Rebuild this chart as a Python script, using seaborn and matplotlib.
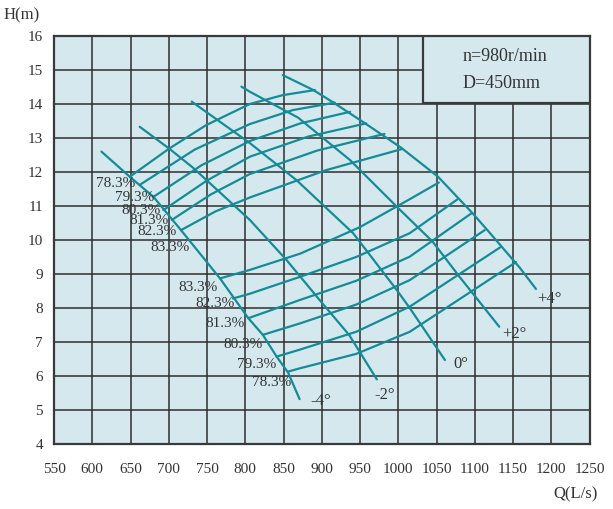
import matplotlib
matplotlib.use("Agg")
import matplotlib.pyplot as plt
from matplotlib.patches import Rectangle
import pandas as pd
import seaborn as sns

# H-Q curves for each blade angle (Q in L/s, H in m)
angle_labels = ["-4°", "-2°", "0°", "+2°", "+4°"]
q_m4 = [612, 649, 680, 716, 767, 804, 823, 841, 856, 871]
h_m4 = [12.60, 11.86, 11.27, 10.29, 8.87, 7.70, 7.21, 6.57, 6.10, 5.32]
q_m2 = [662, 701, 732, 806, 854, 897, 936, 972]
h_m2 = [13.33, 12.68, 12.12, 10.59, 9.41, 8.24, 7.20, 5.90]
q_0 = [730, 806, 867, 941, 998, 1015, 1061]
h_0 = [14.07, 12.85, 11.76, 10.20, 8.53, 8.00, 6.47]
q_p2 = [795, 806, 869, 937, 998, 1045, 1080, 1132]
h_p2 = [14.51, 14.36, 13.60, 12.35, 10.98, 9.95, 8.92, 7.45]
q_p4 = [849, 889, 914, 956, 1004, 1052, 1097, 1120, 1159, 1180]
h_p4 = [14.85, 14.41, 14.06, 13.44, 12.71, 11.86, 10.79, 10.20, 9.18, 8.56]

# iso-efficiency curves, upper branch
eff_labels = ["78.3%", "79.3%", "80.3%", "81.3%", "82.3%", "83.3%"]
q_up = [
    [649, 700, 749, 806, 849, 891],
    [662, 734, 806, 862, 917],
    [680, 743, 806, 872, 937],
    [693, 750, 806, 882, 958],
    [704, 755, 806, 894, 982],
    [716, 761, 806, 905, 1004],
]
h_up = [
    [11.86, 12.68, 13.38, 14.00, 14.26, 14.41],
    [11.62, 12.66, 13.41, 13.82, 14.04],
    [11.27, 12.20, 12.91, 13.43, 13.77],
    [10.88, 11.75, 12.45, 13.04, 13.43],
    [10.59, 11.34, 11.94, 12.63, 13.12],
    [10.29, 10.84, 11.25, 12.05, 12.67],
]
# iso-efficiency curves, lower branch
q_low = [
    [856, 872, 945, 1015, 1154],
    [841, 872, 945, 1015, 1133],
    [823, 872, 945, 1015, 1113],
    [804, 872, 945, 1015, 1096],
    [784, 806, 872, 945, 1015, 1077],
    [767, 806, 872, 950, 1015, 1053],
]
h_low = [
    [6.13, 6.23, 6.65, 7.30, 9.35],
    [6.57, 6.78, 7.30, 8.04, 9.78],
    [7.21, 7.55, 8.10, 8.82, 10.29],
    [7.70, 8.24, 8.80, 9.51, 10.79],
    [8.28, 8.42, 8.92, 9.50, 10.20, 11.19],
    [8.87, 9.12, 9.60, 10.38, 11.20, 11.69],
]

rows = []
for name, qs, hs in zip(angle_labels, [q_m4, q_m2, q_0, q_p2, q_p4],
                        [h_m4, h_m2, h_0, h_p2, h_p4]):
    rows += [{"curve": "angle " + name, "Q": q, "H": h} for q, h in zip(qs, hs)]
for lab, qs, hs in zip(eff_labels, q_up, h_up):
    rows += [{"curve": "up " + lab, "Q": q, "H": h} for q, h in zip(qs, hs)]
for lab, qs, hs in zip(eff_labels, q_low, h_low):
    rows += [{"curve": "low " + lab, "Q": q, "H": h} for q, h in zip(qs, hs)]
df = pd.DataFrame(rows)

sns.set_theme(style="white")
plt.rcParams["font.family"] = ["Liberation Serif", "DejaVu Serif"]

teal = "#148c98"
txt = "#333333"

fig = plt.figure(figsize=(6.13, 5.09), dpi=100)
ax = fig.add_axes([0.0881, 0.1277, 0.8736, 0.8016])
ax.set_facecolor("#d5e8ee")

sns.lineplot(data=df, x="Q", y="H", units="curve", estimator=None, sort=False,
             color=teal, linewidth=1.6, ax=ax, zorder=3)

ax.set_xlim(550, 1250)
ax.set_ylim(4, 16)
ax.set_xticks(range(550, 1251, 50))
ax.set_yticks(range(4, 17))
ax.grid(True, color="#2e2e2e", linewidth=1.1, zorder=1)
ax.set_axisbelow(True)
for sp in ax.spines.values():
    sp.set_color("#3a3a3a")
    sp.set_linewidth(1.6)
ax.tick_params(axis="both", length=0, labelsize=11, labelcolor=txt)
ax.tick_params(axis="x", pad=14)
ax.tick_params(axis="y", pad=8)
ax.set_xlabel("")
ax.set_ylabel("")

# info box
ax.add_patch(Rectangle((1032, 14.02), 218, 1.98, facecolor="#d5e8ee",
                       edgecolor="#3a3a3a", linewidth=1.6, zorder=4))
ax.text(1084, 15.41, "n=980r/min", fontsize=13, color=txt, va="center", zorder=5)
ax.text(1084, 14.59, "D=450mm", fontsize=13, color=txt, va="center", zorder=5)

# efficiency labels
up_pos = [(631, 11.65), (655, 11.25), (664, 10.88), (674, 10.56), (684, 10.24), (701, 9.79)]
low_pos = [(834, 5.82), (815, 6.35), (797, 6.94), (773, 7.53), (760, 8.12), (738, 8.60)]
for lab, (x, y) in zip(eff_labels, up_pos):
    ax.text(x, y, lab, fontsize=11, color=txt, ha="center", va="center", zorder=6)
for lab, (x, y) in zip(eff_labels, low_pos):
    ax.text(x, y, lab, fontsize=11, color=txt, ha="center", va="center", zorder=6)

# blade angle labels
ang_pos = [(899, 5.26), (982, 5.45), (1082, 6.35), (1152, 7.24), (1197, 8.26)]
for lab, (x, y) in zip(angle_labels, ang_pos):
    ax.text(x, y, lab, fontsize=12, color=txt, ha="center", va="center", zorder=6)

fig.text(22 / 613, 1 - 15 / 509, "H(m)", fontsize=12, color=txt, ha="center", va="center")
fig.text(576 / 613, 1 - 494 / 509, "Q(L/s)", fontsize=12, color=txt, ha="center", va="center")

fig.savefig("out.png", dpi=100)
